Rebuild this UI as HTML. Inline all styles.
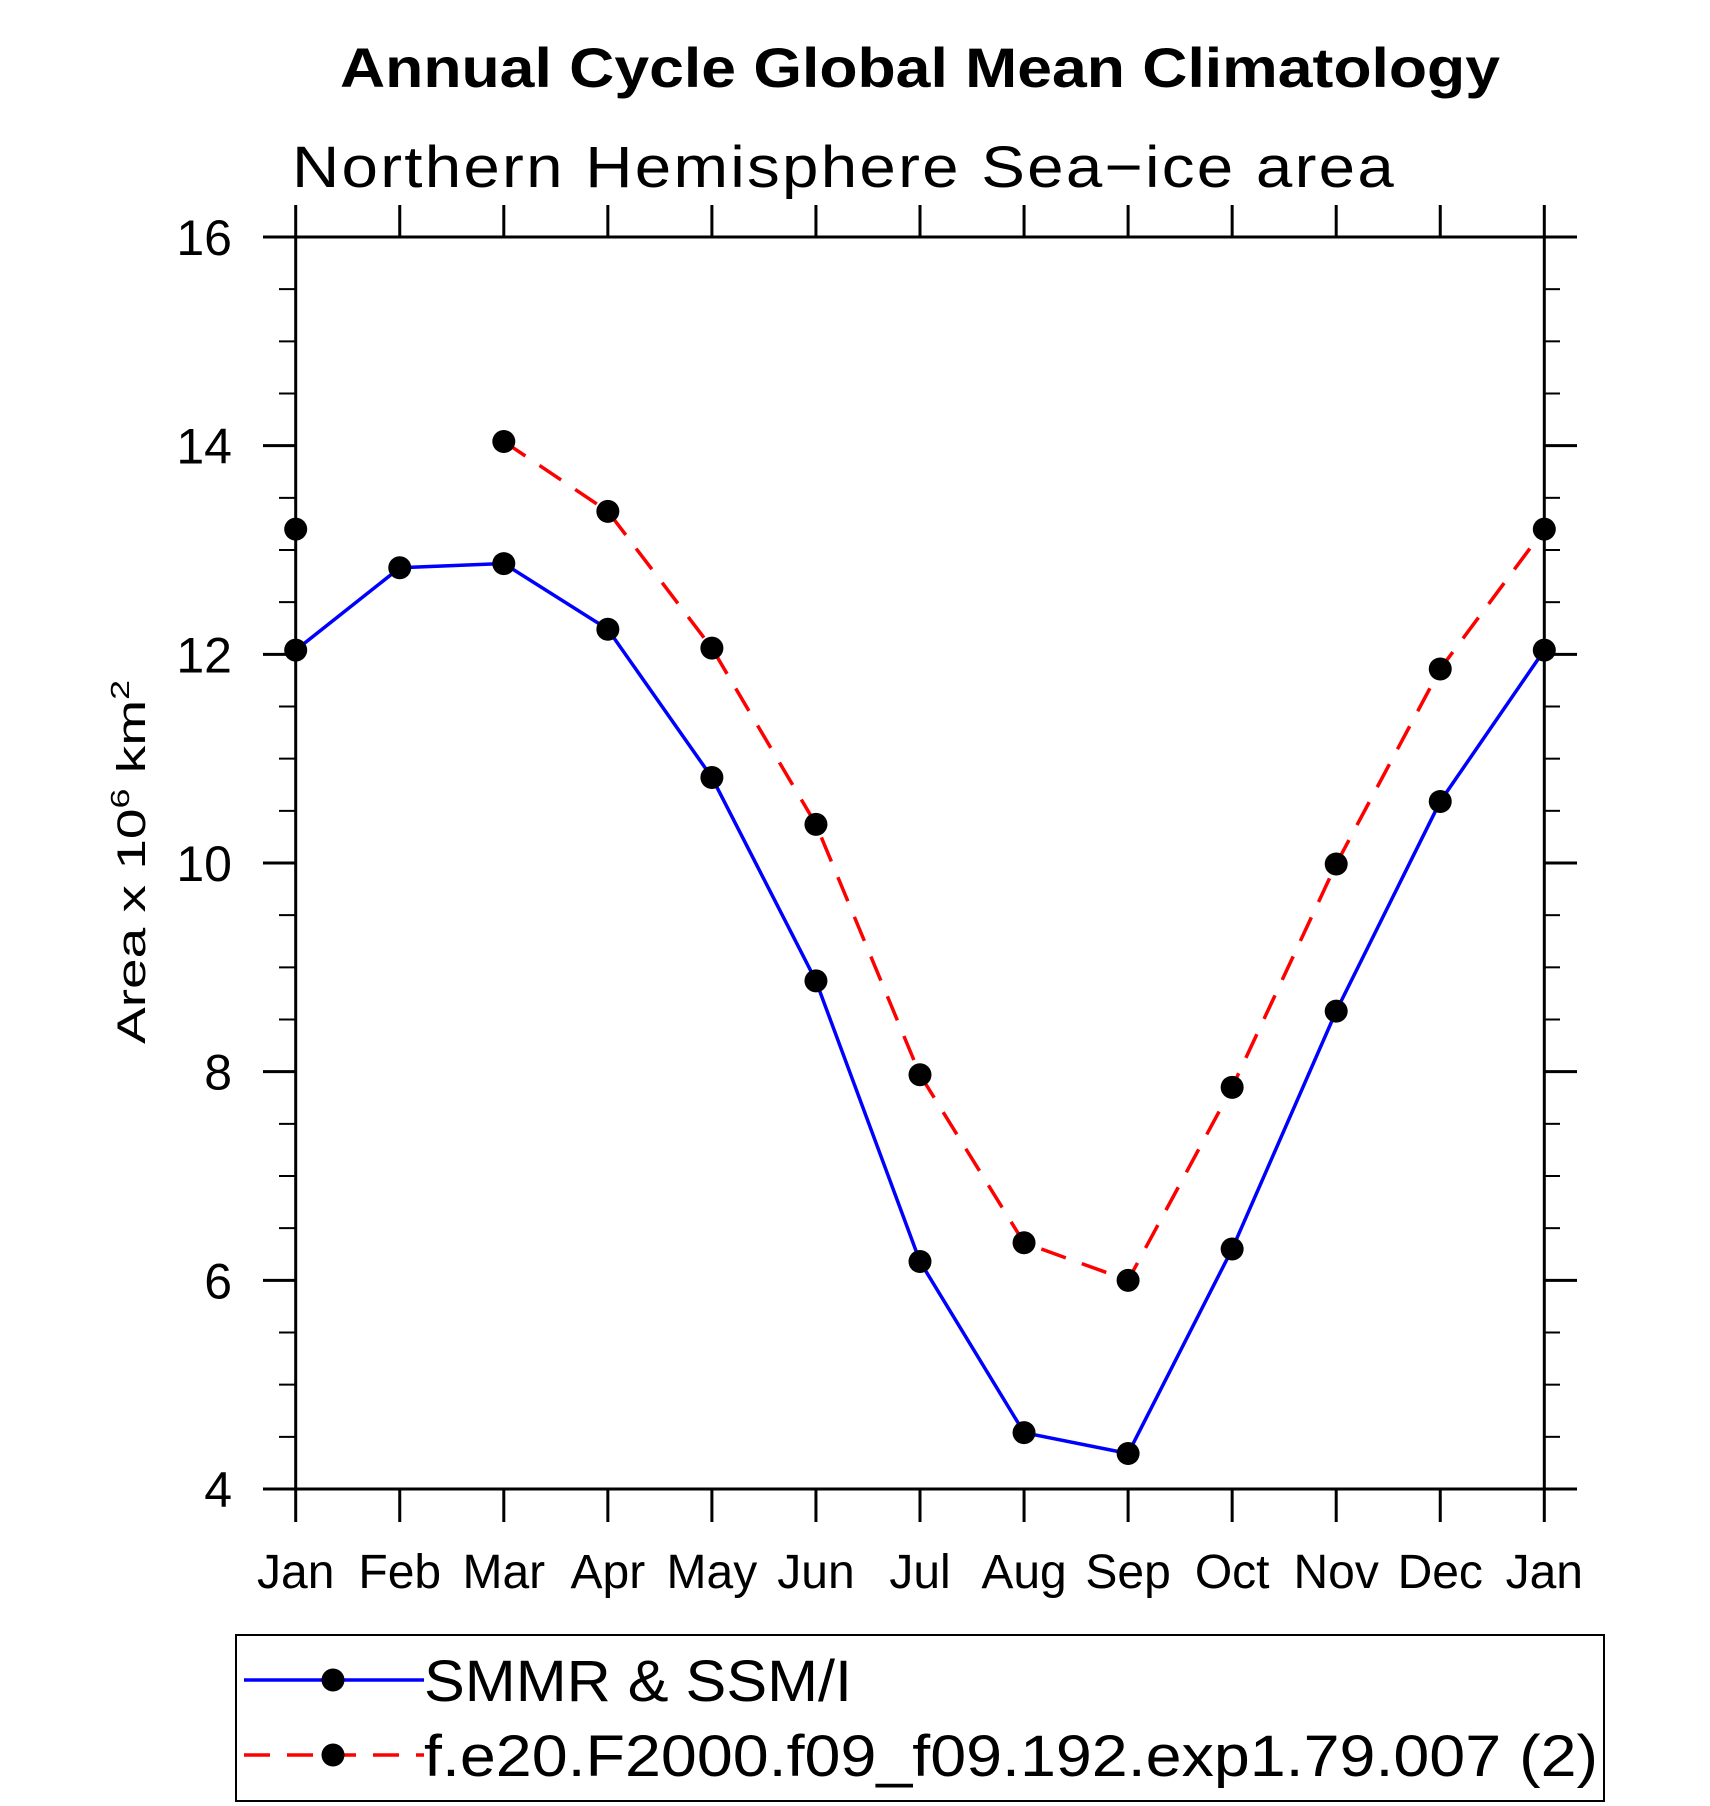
<!DOCTYPE html>
<html><head><meta charset="utf-8"><style>
html,body{margin:0;padding:0;background:#fff;}
svg{display:block;}
text{font-family:"Liberation Sans",sans-serif;fill:#000;}
</style></head><body>
<svg id="chart" width="1710" height="1806" viewBox="0 0 1710 1806" xmlns="http://www.w3.org/2000/svg">
<text x="920" y="87" text-anchor="middle" font-size="56" font-weight="bold" textLength="1160" lengthAdjust="spacingAndGlyphs">Annual Cycle Global Mean Climatology</text>
<text x="292" y="187" font-size="58" font-weight="normal" textLength="1104" lengthAdjust="spacingAndGlyphs" style="letter-spacing:2px">Northern Hemisphere Sea−ice area</text>
<text transform="translate(145,862) rotate(-90)" text-anchor="middle" font-size="40" textLength="364" lengthAdjust="spacingAndGlyphs">Area x 10<tspan font-size="26" dy="-16">6</tspan><tspan dy="16"> km</tspan><tspan font-size="26" dy="-16">2</tspan></text>
<g id="axes"></g>
<g id="series"></g>
<g id="legend">
<rect x="236" y="1635" width="1368" height="166" fill="none" stroke="#000" stroke-width="2"/>
<g>
<line x1="244" y1="1680" x2="424" y2="1680" stroke="#0000ff" stroke-width="3.5"/>
<circle cx="333" cy="1680" r="11.5" fill="#000"/>
<text x="424" y="1701" font-size="58" textLength="428" lengthAdjust="spacingAndGlyphs">SMMR &amp; SSM/I</text>
</g>
<g>
<line x1="244" y1="1755" x2="424" y2="1755" stroke="#ff0000" stroke-width="3.5" stroke-dasharray="26,17"/>
<circle cx="333" cy="1755" r="11.5" fill="#000"/>
<text x="424" y="1776" font-size="58" textLength="1174" lengthAdjust="spacingAndGlyphs">f.e20.F2000.f09_f09.192.exp1.79.007 (2)</text>
</g>
</g>
</svg>
<script>
const months = ["Jan","Feb","Mar","Apr","May","Jun","Jul","Aug","Sep","Oct","Nov","Dec","Jan"];
const obsValues = [12.04,12.83,12.87,12.24,10.82,8.87,6.18,4.54,4.34,6.30,8.58,10.59,12.04];
const modelValues = [13.20,null,14.04,13.37,12.06,10.37,7.97,6.36,6.00,7.85,9.99,11.86,13.20];
const yTicks = [4,6,8,10,12,14,16];
const yMinorTicks = [4.5,5,5.5,6.5,7,7.5,8.5,9,9.5,10.5,11,11.5,12.5,13,13.5,14.5,15,15.5];

const L=295.7,R=1544.3,T=237,B=1489,yMin=4,yMax=16;
const xs=i=>L+i*(R-L)/(months.length-1);
const ys=v=>B-(v-yMin)/(yMax-yMin)*(B-T);
const NS="http://www.w3.org/2000/svg";
function mk(tag,attrs,parent){const e=document.createElementNS(NS,tag);for(const k in attrs)e.setAttribute(k,attrs[k]);parent.appendChild(e);return e;}
const ax=document.getElementById('axes');
let e;
e=mk('rect',{x:L,y:T,width:R-L,height:B-T,fill:'none',stroke:'#000','stroke-width':3},ax);


yTicks.forEach(v=>{
  e=mk('line',{x1:263,x2:L,y1:ys(v),y2:ys(v),stroke:'#000','stroke-width':3},ax);
  
  
  e=mk('line',{x1:R,x2:1577,y1:ys(v),y2:ys(v),stroke:'#000','stroke-width':3},ax);
  
  
  e=mk('text',{x:232,y:ys(v)+18,'text-anchor':'end','font-size':50},ax);
  e.textContent=v;
  
  
});
yMinorTicks.forEach(v=>{
  e=mk('line',{x1:279,x2:L,y1:ys(v),y2:ys(v),stroke:'#000','stroke-width':2},ax);
  
  
  e=mk('line',{x1:R,x2:1560,y1:ys(v),y2:ys(v),stroke:'#000','stroke-width':2},ax);
  
  
});
months.forEach((m,i)=>{
  e=mk('line',{x1:xs(i),x2:xs(i),y1:205,y2:T,stroke:'#000','stroke-width':3},ax);
  
  
  e=mk('line',{x1:xs(i),x2:xs(i),y1:B,y2:1522,stroke:'#000','stroke-width':3},ax);
  
  
  e=mk('text',{x:xs(i),y:1588,'text-anchor':'middle','font-size':48},ax);
  e.textContent=m;
  
  
});
const sg=document.getElementById('series');
function drawSeries(vals,color,dash,name){
  let segs=[],cur=[];
  vals.forEach((v,i)=>{if(v==null){if(cur.length)segs.push(cur);cur=[];}else cur.push([xs(i),ys(v)]);});
  if(cur.length)segs.push(cur);
  segs.forEach(s=>{if(s.length<2)return;
    e=mk('polyline',{points:s.map(p=>p.join(',')).join(' '),fill:'none',stroke:color,'stroke-width':3.5,'stroke-dasharray':dash},sg);
    
    
  });
  vals.forEach((v,i)=>{if(v==null)return;
    e=mk('circle',{cx:xs(i),cy:ys(v),r:11.5,fill:'#000'},sg);
    
    
  });
}
drawSeries(obsValues,'#0000ff','none','smmr-ssmi');
drawSeries(modelValues,'#ff0000','26,17','model-exp');
</script>
</body></html>
